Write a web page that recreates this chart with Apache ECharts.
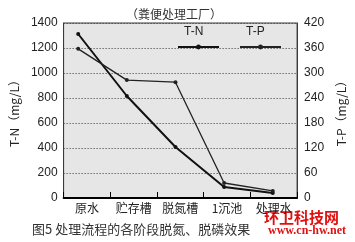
<!DOCTYPE html>
<html>
<head>
<meta charset="utf-8">
<script src="https://cdn.jsdelivr.net/npm/echarts@6/dist/echarts.min.js"></script>
<style>
html,body{margin:0;padding:0;background:#fff;}
#c{width:355px;height:242px;}
</style>
</head>
<body>
<div id="c"></div>
<script>
var categories = ['原水', '贮存槽', '脱氮槽', '1沉池', '处理水'];
var tnValues = [1312, 816, 408, 88, 40];
var tpValues = [358, 283, 278, 36, 17];
var leftTicks = [0, 200, 400, 600, 800, 1000, 1200, 1400];
var rightTicks = [0, 60, 120, 180, 240, 300, 360, 420];

var CJK = '"Noto Sans CJK SC", "Liberation Sans", sans-serif';
var NUM = '"Liberation Sans", Arial, sans-serif';

function pairs(vals) {
  return vals.map(function (v, i) { return [i, v]; });
}

var chart = echarts.init(document.getElementById('c'), null, {renderer: 'canvas'});
chart.setOption({
  animation: false,
  backgroundColor: '#ffffff',
  grid: {
    left: 55, top: 23, width: 250, height: 175,
    show: true, backgroundColor: '#e6e6e6', borderColor: '#3a3a3a', borderWidth: 1
  },
  xAxis: [{
    type: 'category',
    data: categories,
    boundaryGap: true,
    axisLine: {onZero: false, lineStyle: {color: '#000', width: 2}},
    axisTick: {show: true, inside: true, length: 6, lineStyle: {color: '#000', width: 1}},
    axisLabel: {fontFamily: CJK, fontSize: 12, color: '#222', margin: 4, interval: 0}
  }, {
    type: 'value',
    min: -0.3, max: 4.5,
    show: false
  }],
  yAxis: [{
    type: 'value',
    min: leftTicks[0], max: leftTicks[leftTicks.length - 1], interval: 200,
    name: 'T-N（mg/L）',
    nameLocation: 'middle', nameGap: 40, nameRotate: 90,
    nameTextStyle: {fontFamily: CJK, fontSize: 12, color: '#222'},
    axisLine: {show: true, onZero: false, lineStyle: {color: '#3a3a3a', width: 1}},
    axisTick: {show: false},
    axisLabel: {fontFamily: NUM, fontSize: 12, color: '#222', margin: 6,
      formatter: function (v) { return String(v); }},
    splitLine: {show: true, lineStyle: {color: '#333', width: 1, type: [1, 2]}}
  }, {
    type: 'value',
    position: 'right',
    min: rightTicks[0], max: rightTicks[rightTicks.length - 1], interval: 60,
    name: 'T-P（mg/L）',
    nameLocation: 'middle', nameGap: 33, nameRotate: 90,
    nameTextStyle: {fontFamily: CJK, fontSize: 12, color: '#222'},
    axisLine: {show: true, onZero: false, lineStyle: {color: '#3a3a3a', width: 1}},
    axisTick: {show: false},
    axisLabel: {fontFamily: NUM, fontSize: 12, color: '#222', margin: 7,
      formatter: function (v) { return String(v); }},
    splitLine: {show: false}
  }],
  legend: [{
    data: ['T-N'], left: 172, top: 39, itemWidth: 41, itemHeight: 6,
    formatter: function () { return ''; }, selectedMode: false
  }, {
    data: ['T-P'], left: 234, top: 39, itemWidth: 41, itemHeight: 6,
    formatter: function () { return ''; }, selectedMode: false
  }],
  series: [{
    name: 'T-N', type: 'line',
    xAxisIndex: 1, yAxisIndex: 0,
    data: pairs(tnValues),
    symbol: 'circle', symbolSize: 4,
    itemStyle: {color: '#111'},
    lineStyle: {color: '#111', width: 2}
  }, {
    name: 'T-P', type: 'line',
    xAxisIndex: 1, yAxisIndex: 1,
    data: pairs(tpValues),
    symbol: 'circle', symbolSize: 4,
    itemStyle: {color: '#222'},
    lineStyle: {color: '#222', width: 1.3}
  }],
  graphic: [{
    type: 'text', left: 126, top: 8,
    style: {text: '（粪便处理工厂）', font: '12px "Noto Sans CJK SC"', fill: '#333'}
  }, {
    type: 'text', left: 184, top: 26,
    style: {text: 'T-N', font: '12px "Liberation Sans"', fill: '#222'}
  }, {
    type: 'text', left: 246, top: 26,
    style: {text: 'T-P', font: '12px "Liberation Sans"', fill: '#222'}
  }, {
    type: 'text', left: 264, top: 210,
    style: {text: '环卫科技网', font: 'bold 15px "Noto Sans CJK SC"', fill: '#e01010'}
  }, {
    type: 'text', left: 32, top: 223,
    style: {text: '图5 处理流程的各阶段脱氮、脱磷效果', font: '13px "Noto Sans CJK SC"', fill: '#333'}
  }, {
    type: 'text', left: 268, top: 225,
    style: {text: 'www.cn-hw.net', font: 'bold 12px "Liberation Serif"', fill: '#e01010'}
  }]
});
</script>
</body>
</html>
